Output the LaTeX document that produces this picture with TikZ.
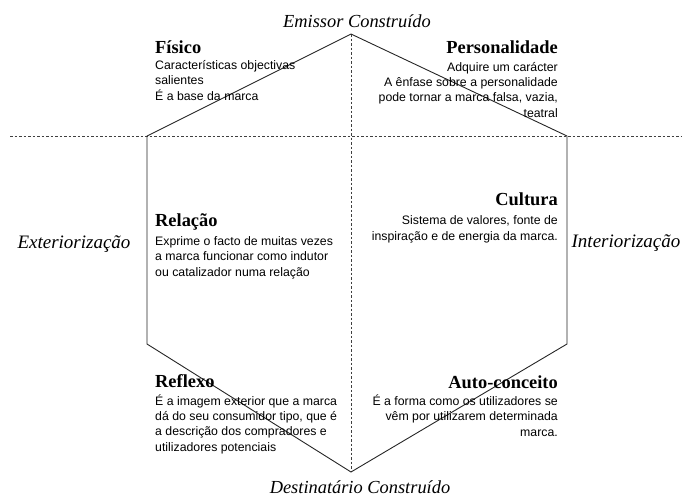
\documentclass[tikz,border=0pt]{standalone}
\usepackage{fontspec}
\setmainfont{Liberation Serif}
\newfontfamily\bodyfont{Liberation Sans}
\newfontfamily\axisfont{Liberation Serif}
\begin{document}
\begin{tikzpicture}[x=1pt,y=-1pt,
  hexline/.style={line width=0.9pt,draw=black!85},
  guide/.style={line width=0.6pt,draw=black!75,dash pattern=on 2.5pt off 2pt},
  ttl/.style={inner sep=0pt,font=\bfseries\fontsize{18.4}{19}\selectfont},
  bodyL/.style={inner sep=0pt,align=left,font=\bodyfont\fontsize{12.3}{15.2}\selectfont},
  bodyR/.style={inner sep=0pt,align=right,font=\bodyfont\fontsize{12.3}{15.2}\selectfont},
  axis/.style={inner sep=0pt,font=\axisfont\itshape\fontsize{18.4}{19}\selectfont},
  sideaxis/.style={inner sep=0pt,font=\axisfont\itshape\fontsize{19}{20}\selectfont}]
\useasboundingbox (0,0) rectangle (682,498);
% hexagon vertices
\coordinate (T) at (351,34);
\coordinate (UL) at (147,136);
\coordinate (UR) at (567,136);
\coordinate (LL) at (147,344);
\coordinate (LR) at (567,344);
\coordinate (B) at (351,472);
\coordinate (HL) at (10,136);
\coordinate (HR) at (682,136);
% guide lines
\draw[guide] (HL) -- (HR);
\draw[guide] (T) -- (B);
% hexagon
\draw[hexline] (T) -- (UR) -- (LR) -- (B) -- (LL) -- (UL) -- cycle;
% axis labels
\node[axis,anchor=base] (emi) at (357,27) {Emissor Construído};
\node[axis,anchor=base] (dest) at (360,493) {Destinatário Construído};
\node[sideaxis,anchor=base] (ext) at (74,248) {Exteriorização};
\node[sideaxis,anchor=base] (int) at (626,247) {Interiorização};
% facets (multi-line bodies anchored at the baseline of their last line)
\node[ttl,anchor=base west] (fis) at (155,53) {Físico};
\node[bodyL,anchor=base west] (fisb) at (155,100) {Características objectivas\\salientes\\É a base da marca};
\node[ttl,anchor=base east] (per) at (558,53) {Personalidade};
\node[bodyR,anchor=base east] (perb) at (558,117) {Adquire um carácter\\A ênfase sobre a personalidade\\pode tornar a marca falsa, vazia,\\teatral};
\node[ttl,anchor=base west] (rel) at (155,226) {Relação};
\node[bodyL,anchor=base west] (relb) at (155,276) {Exprime o facto de muitas vezes\\a marca funcionar como indutor\\ou catalizador numa relação};
\node[ttl,anchor=base east] (cul) at (558,205) {Cultura};
\node[bodyR,anchor=base east] (culb) at (558,240) {Sistema de valores, fonte de\\inspiração e de energia da marca.};
\node[ttl,anchor=base west] (ref) at (155,387) {Reflexo};
\node[bodyL,anchor=base west] (refb) at (155,451) {É a imagem exterior que a marca\\dá do seu consumidor tipo, que é\\a descrição dos compradores e\\utilizadores potenciais};
\node[ttl,anchor=base east] (aut) at (558,388) {Auto-conceito};
\node[bodyR,anchor=base east] (autb) at (558,436) {É a forma como os utilizadores se\\vêm por utilizarem determinada\\marca.};
\end{tikzpicture}
\end{document}
